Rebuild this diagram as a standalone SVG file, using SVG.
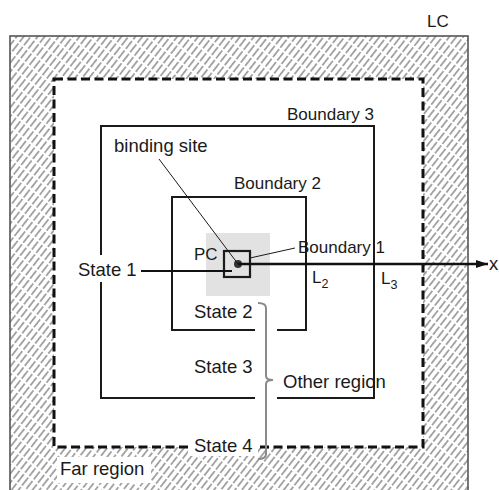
<svg xmlns="http://www.w3.org/2000/svg" width="499" height="490" viewBox="0 0 499 490">
  <defs>
    <pattern id="hatch" patternUnits="userSpaceOnUse" width="5.5" height="12" patternTransform="rotate(38)">
      <line x1="2.75" y1="0" x2="2.75" y2="12" stroke="#555" stroke-width="1" stroke-dasharray="9 2 1 0"/>
    </pattern>
    <marker id="arrow" viewBox="0 0 12 8" refX="12" refY="4" markerWidth="12" markerHeight="8" markerUnits="userSpaceOnUse" orient="auto">
      <path d="M0,0 L12,4 L0,8 z" fill="#111"/>
    </marker>
    <style>
      text { font-family: "Liberation Sans", Arial, sans-serif; fill: #1a1a1a; }
      .lbl { font-size: 18.5px; }
      .bnd { font-size: 17px; }
      .sub { font-size: 12.5px; }
      .box { fill: none; stroke: #1a1a1a; stroke-width: 2; }
      .lead { fill: none; stroke: #1a1a1a; stroke-width: 1; }
      .mask { fill: #fff; stroke: none; }
    </style>
  </defs>

  <rect width="499" height="490" fill="#fff"/>

  <!-- liquid crystal: hatched outer band -->
  <g id="lc">
    <rect x="10" y="36" width="458" height="470" fill="url(#hatch)" stroke="#555" stroke-width="1.6"/>
    <rect x="54" y="79" width="369" height="368" fill="#fff"/>
    <text class="bnd" x="427" y="27">LC</text>
  </g>

  <!-- State 4 boundary (dashed) -->
  <g id="boundary4">
    <rect x="54" y="79" width="369" height="368" fill="none" stroke="#111" stroke-width="3" stroke-dasharray="9 4.5"/>
    <rect class="mask" x="188" y="436" width="70" height="20"/>
    <text class="lbl" x="194" y="452">State 4</text>
  </g>

  <g id="far-region">
    <rect class="mask" x="57" y="457" width="94" height="26"/>
    <text class="lbl" x="60" y="475">Far region</text>
  </g>

  <!-- Boundary 3 -->
  <g id="boundary3">
    <path class="box" d="M255,398 H101 V126 H374 V398 H277"/>
    <text class="bnd" x="287" y="120">Boundary 3</text>
    <text class="lbl" x="194" y="373">State 3</text>
  </g>

  <!-- Boundary 2 -->
  <g id="boundary2">
    <path class="box" d="M255,330 H172 V197 H306 V330 H277"/>
    <text class="bnd" x="234" y="189">Boundary 2</text>
    <text class="lbl" x="194" y="318">State 2</text>
  </g>

  <!-- Boundary 1 around the particle -->
  <g id="boundary1">
    <rect x="206" y="233" width="64" height="63" fill="#e2e2e2"/>
    <rect x="224" y="251" width="26" height="26" fill="none" stroke="#1a1a1a" stroke-width="2.2"/>
    <circle cx="238" cy="264" r="4" fill="#333"/>
    <text class="bnd" x="194" y="260">PC</text>
    <text class="bnd" x="298" y="253">Boundary 1</text>
  </g>

  <g id="state1">
    <rect class="mask" x="76" y="255" width="63" height="27"/>
    <text class="lbl" x="78" y="276">State 1</text>
  </g>

  <g id="binding-site">
    <text class="lbl" x="114" y="152">binding site</text>
  </g>

  <g id="other-region">
    <path d="M258,303 Q266,303 266,308 V376 Q266,380 273,380 Q266,380 266,384 V454 Q266,459 258,459" fill="none" stroke="#8a8a8a" stroke-width="2"/>
    <text class="lbl" x="283" y="388">Other region</text>
  </g>

  <g id="axis-labels">
    <text class="bnd" x="312" y="283">L<tspan class="sub" dy="5">2</tspan></text>
    <text class="bnd" x="381" y="284">L<tspan class="sub" dy="5">3</tspan></text>
    <text class="lbl" x="489" y="270">x</text>
  </g>

  <!-- connectors: axis and leader lines -->
  <g id="connectors">
    <line x1="141" y1="271" x2="232" y2="271" stroke="#111" stroke-width="2.2"/>
    <line x1="238" y1="264" x2="488" y2="264" stroke="#111" stroke-width="2.4" marker-end="url(#arrow)"/>
    <line class="lead" x1="159" y1="159" x2="238" y2="264"/>
    <line class="lead" x1="250" y1="258" x2="295" y2="248"/>
  </g>
</svg>
